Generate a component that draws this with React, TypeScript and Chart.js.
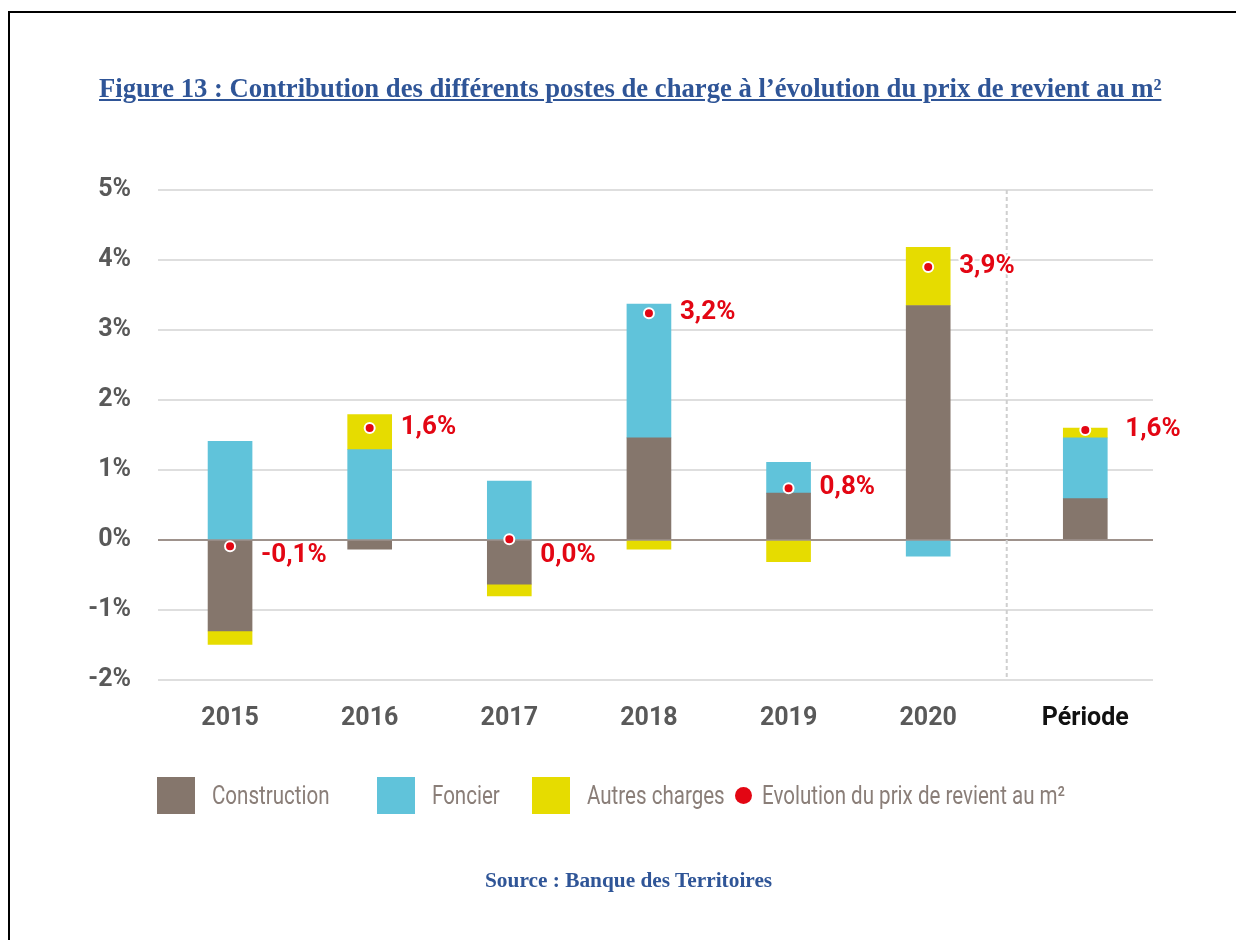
import React, { useEffect, useRef } from "react";
import { Chart, registerables } from "chart.js";

Chart.register(...registerables);

// ---- data ----
const categories = ["2015", "2016", "2017", "2018", "2019", "2020", "Période"];
const categoryPositions = [0, 1, 2, 3, 4, 5, 6.125];
const construction = [-1.3, -0.13, -0.63, 1.46, 0.67, 3.35, 0.59];
const foncier = [1.41, 1.29, 0.84, 1.91, 0.44, -0.23, 0.87];
const autresCharges = [-0.19, 0.5, -0.17, -0.13, -0.31, 0.83, 0.14];
const evolution = [-0.09, 1.6, 0.01, 3.24, 0.74, 3.9, 1.57];
const evolutionLabels = ["-0,1%", "1,6%", "0,0%", "3,2%", "0,8%", "3,9%", "1,6%"];
const yTickValues = [-2, -1, 0, 1, 2, 3, 4, 5];

const seriesNames = ["Construction", "Foncier", "Autres charges", "Evolution du prix de revient au m²"];

const COLORS = {
  construction: "#85766c",
  foncier: "#60c3da",
  autres: "#e6dc00",
  red: "#e30613",
};

const toXY = (vals: number[]) => vals.map((v, i) => ({ x: categoryPositions[i], y: v }));

const separatorPlugin = {
  id: "separator",
  beforeDatasetsDraw(chart: any) {
    const { ctx, chartArea, scales } = chart;
    const x = (scales.x.getPixelForValue(categoryPositions[5]) + scales.x.getPixelForValue(categoryPositions[6])) / 2;
    ctx.save();
    ctx.strokeStyle = "#cfcfcf";
    ctx.lineWidth = 2;
    ctx.setLineDash([4, 3]);
    ctx.beginPath();
    ctx.moveTo(x, chartArea.top);
    ctx.lineTo(x, chartArea.bottom);
    ctx.stroke();
    ctx.restore();
  },
};

const labelPlugin = {
  id: "evoLabels",
  afterDatasetsDraw(chart: any) {
    const { ctx, scales } = chart;
    const meta = chart.getDatasetMeta(3);
    const zeroY = scales.y.getPixelForValue(0);
    ctx.save();
    ctx.font = "bold 26px Roboto, sans-serif";
    ctx.textAlign = "left";
    ctx.textBaseline = "middle";
    ctx.lineJoin = "round";
    meta.data.forEach((pt: any, i: number) => {
      const x = pt.x + 22 + (i === 6 ? 18 : 9);
      const y = evolution[i] <= 0.05 ? zeroY + 15 : pt.y - 1;
      ctx.strokeStyle = "#ffffff";
      ctx.lineWidth = 4;
      ctx.strokeText(evolutionLabels[i], x, y);
      ctx.fillStyle = COLORS.red;
      ctx.fillText(evolutionLabels[i], x, y);
    });
    ctx.restore();
  },
};

function ChartCanvas() {
  const ref = useRef<HTMLCanvasElement | null>(null);
  useEffect(() => {
    if (!ref.current) return;
    const chart = new Chart(ref.current, {
      type: "bar",
      data: {
        datasets: [
          {
            type: "bar",
            label: seriesNames[0],
            data: toXY(construction),
            backgroundColor: COLORS.construction,
            barThickness: 44,
            stack: "bars",
            order: 1,
          },
          {
            type: "bar",
            label: seriesNames[1],
            data: toXY(foncier),
            backgroundColor: COLORS.foncier,
            barThickness: 44,
            stack: "bars",
            order: 1,
          },
          {
            type: "bar",
            label: seriesNames[2],
            data: toXY(autresCharges),
            backgroundColor: COLORS.autres,
            barThickness: 44,
            stack: "bars",
            order: 1,
          },
          {
            type: "line",
            label: seriesNames[3],
            data: toXY(evolution),
            showLine: false,
            pointRadius: 5,
            pointBorderWidth: 2,
            pointBackgroundColor: COLORS.red,
            pointBorderColor: "#ffffff",
            stack: "evo",
            order: 0,
          } as any,
        ],
      },
      options: {
        responsive: false,
        animation: false,
        layout: { padding: { top: 30, right: 75, bottom: 18, left: 0 } },
        plugins: {
          legend: { display: false },
          tooltip: { enabled: false },
          title: { display: false },
        },
        scales: {
          x: {
            type: "linear",
            offset: false,
            min: -0.516,
            max: 6.61,
            stacked: true,
            grid: { display: false, drawTicks: false },
            border: { display: false },
            afterBuildTicks: (axis: any) => {
              axis.ticks = categoryPositions.map((v) => ({ value: v }));
            },
            afterFit: (axis: any) => {
              axis.height = 62;
              axis.paddingLeft = 0;
              axis.paddingRight = 0;
            },
            ticks: {
              autoSkip: false,
              maxRotation: 0,
              padding: 24,
              font: { family: "Roboto, sans-serif", size: 25, weight: "bold" },
              color: (ctx: any) => (ctx.index === 6 ? "#111111" : "#595959"),
              callback: (value: any) => {
                const i = categoryPositions.indexOf(Number(value));
                return i >= 0 ? categories[i] : "";
              },
            },
          },
          y: {
            type: "linear",
            min: -2,
            max: 5,
            stacked: true,
            grid: {
              drawTicks: false,
              lineWidth: 2,
              color: (ctx: any) => (ctx.tick && ctx.tick.value === 0 ? "#9e928c" : "#dedede"),
            },
            border: { display: false },
            afterBuildTicks: (axis: any) => {
              axis.ticks = yTickValues.map((v) => ({ value: v }));
            },
            afterFit: (axis: any) => {
              axis.width = 150;
              axis.paddingTop = 0;
              axis.paddingBottom = 0;
            },
            ticks: {
              padding: 27,
              font: { family: "Roboto, sans-serif", size: 25, weight: "bold" },
              color: "#595959",
              callback: (value: any) => `${value}%`,
            },
          },
        },
      },
      plugins: [separatorPlugin, labelPlugin],
    } as any);
    return () => chart.destroy();
  }, []);
  return (
    <canvas
      ref={ref}
      width={1220}
      height={600}
      style={{ position: "absolute", left: 0, top: 152, width: 1220, height: 600 }}
    />
  );
}

function Legend() {
  const items = [
    { name: seriesNames[0], color: COLORS.construction, left: 149, shape: "box" },
    { name: seriesNames[1], color: COLORS.foncier, left: 369, shape: "box" },
    { name: seriesNames[2], color: COLORS.autres, left: 524, shape: "box" },
    { name: seriesNames[3], color: COLORS.red, left: 727, shape: "dot" },
  ];
  return (
    <>
      {items.map((it) => (
        <div
          key={it.name}
          style={{
            position: "absolute",
            left: it.left,
            top: 769,
            height: 37,
            display: "flex",
            alignItems: "center",
            whiteSpace: "nowrap",
          }}
        >
          {it.shape === "box" ? (
            <div style={{ width: 38, height: 37, background: it.color, marginRight: 17, flex: "none" }} />
          ) : (
            <div
              style={{
                width: 17,
                height: 17,
                borderRadius: "50%",
                background: it.color,
                marginRight: 10,
                flex: "none",
              }}
            />
          )}
          <span
            style={{
              fontFamily: "Roboto, sans-serif",
              fontSize: 26,
              color: "#8a7e78",
              lineHeight: "37px",
              display: "inline-block",
              transform: "scaleX(0.79)",
              transformOrigin: "left center",
            }}
          >
            {it.name}
          </span>
        </div>
      ))}
    </>
  );
}

export default function App() {
  return (
    <div style={{ position: "relative", width: 1220, height: 924, background: "#ffffff" }}>
      <div
        style={{
          position: "fixed",
          left: 8,
          top: 11,
          width: 1400,
          height: 1100,
          border: "2px solid #000000",
          pointerEvents: "none",
        }}
      />
      <div
        style={{
          position: "absolute",
          left: 91,
          top: 66.7,
          whiteSpace: "nowrap",
          fontFamily: "'Liberation Serif', 'Times New Roman', serif",
          fontWeight: "bold",
          fontSize: 26.67,
          lineHeight: 1,
          color: "#2f5597",
          textDecoration: "underline",
        }}
      >
        Figure 13 : Contribution des différents postes de charge à l’évolution du prix de revient au m²
      </div>
      <ChartCanvas />
      <Legend />
      <div
        style={{
          position: "absolute",
          left: 477,
          top: 862,
          whiteSpace: "nowrap",
          fontFamily: "'Liberation Serif', 'Times New Roman', serif",
          fontWeight: "bold",
          fontSize: 21.33,
          lineHeight: 1,
          color: "#2f5597",
        }}
      >
        Source : Banque des Territoires
      </div>
    </div>
  );
}
